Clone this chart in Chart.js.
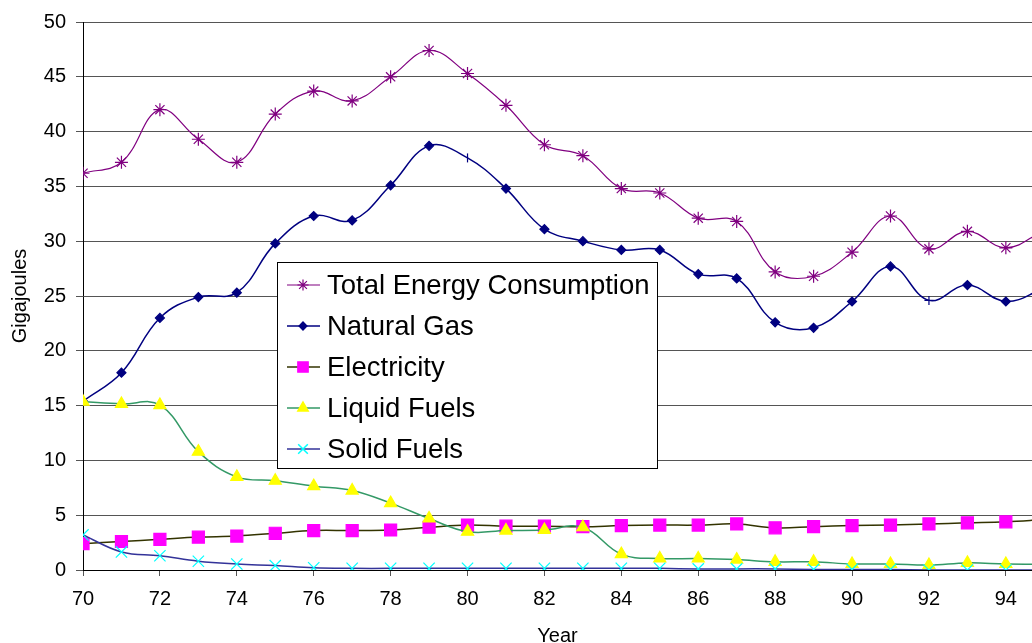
<!DOCTYPE html>
<html>
<head>
<meta charset="utf-8">
<script src="https://cdn.jsdelivr.net/npm/chart.js@4/dist/chart.umd.min.js"></script>
<style>
  html, body { margin: 0; padding: 0; background: #fff; overflow: hidden; }
  canvas { display: block; }
</style>
</head>
<body>
<canvas id="energy" width="1032" height="656"></canvas>
<script>
'use strict';

/* ── data ── */
const years = [70, 71, 72, 73, 74, 75, 76, 77, 78, 79, 80, 81, 82, 83, 84, 85, 86, 87, 88, 89, 90, 91, 92, 93, 94, 95];

const totalEnergy = [36.2, 37.2, 42.0, 39.3, 37.2, 41.6, 43.7, 42.8, 45.0, 47.4, 45.3, 42.4, 38.8,
                     37.8, 34.8, 34.4, 32.1, 31.8, 27.2, 26.8, 29.0, 32.3, 29.3, 30.9, 29.4, 31.0];
const naturalGas  = [15.4, 18.0, 23.0, 24.9, 25.3, 29.8, 32.3, 31.9, 35.1, 38.7, 37.6, 34.8, 31.1,
                     30.0, 29.2, 29.2, 27.0, 26.6, 22.6, 22.1, 24.5, 27.7, 24.6, 26.0, 24.5, 25.7];
const electricity = [2.4, 2.6, 2.8, 3.0, 3.1, 3.35, 3.6, 3.6, 3.65, 3.9, 4.1, 4.0, 4.0,
                     3.95, 4.05, 4.1, 4.1, 4.2, 3.85, 3.95, 4.05, 4.1, 4.2, 4.3, 4.4, 4.6];
const liquidFuels = [15.35, 15.15, 15.05, 10.8, 8.5, 8.15, 7.65, 7.25, 6.1, 4.7, 3.5, 3.6, 3.65,
                     3.9, 1.45, 1.05, 1.05, 0.95, 0.75, 0.75, 0.55, 0.55, 0.45, 0.65, 0.55, 0.5];
const solidFuels  = [3.2, 1.65, 1.3, 0.8, 0.55, 0.4, 0.2, 0.15, 0.15, 0.15, 0.15, 0.15, 0.15,
                     0.15, 0.15, 0.15, 0.1, 0.1, 0.1, 0.05, 0.05, 0.05, 0.0, 0.0, 0.0, 0.0];

const seriesNames = ['Total Energy Consumption', 'Natural Gas', 'Electricity', 'Liquid Fuels', 'Solid Fuels'];

const FONT = "'Liberation Sans', Arial, sans-serif";

function points(values) {
  return years.map((yr, i) => ({ x: yr, y: values[i] }));
}

function series(label, values, line, marker, style, radius, order, lineWidth) {
  return {
    label: label,
    data: points(values),
    borderColor: line,
    borderWidth: lineWidth,
    pointStyle: style,
    legendStyle: style,
    pointRadius: radius,
    pointHoverRadius: radius,
    pointBackgroundColor: marker,
    pointBorderColor: marker,
    pointBorderWidth: 1.2,
    tension: 0.4,
    fill: false,
    order: order,
  };
}

/* ── boxed legend in the middle of the plot ── */
const boxLegend = {
  id: 'boxLegend',
  afterDraw(chart) {
    const ctx = chart.ctx;
    ctx.save();
    ctx.fillStyle = '#fff';
    ctx.fillRect(277.5, 262.5, 380, 206);
    ctx.strokeStyle = '#000';
    ctx.lineWidth = 1;
    ctx.strokeRect(277.5, 262.5, 380, 206);

    ctx.font = '27.5px ' + FONT;
    ctx.textBaseline = 'middle';
    chart.data.datasets.forEach((ds, i) => {
      const y = 285 + i * 41;
      ctx.strokeStyle = ds.borderColor;
      ctx.lineWidth = ds.borderWidth;
      ctx.beginPath();
      ctx.moveTo(287, y);
      ctx.lineTo(320, y);
      ctx.stroke();

      ctx.fillStyle = ds.pointBackgroundColor;
      ctx.strokeStyle = ds.pointBorderColor;
      Chart.helpers.drawPoint(ctx, {
        pointStyle: ds.legendStyle,
        radius: ds.pointRadius * 0.85,
        borderWidth: ds.pointBorderWidth,
        rotation: 0,
      }, 303, y);

      ctx.fillStyle = '#000';
      ctx.fillText(ds.label, 327, y + 1);
    });
    ctx.restore();
  },
};

const gas = series(seriesNames[1], naturalGas, '#000080', '#000080', 'rectRot', 4.5, 4, 1.5);
// the original shows odd glyphs at 80 and 92 on this series
gas.pointStyle = years.map(yr => (yr === 80 ? 'line' : yr === 92 ? 'cross' : 'rectRot'));
gas.pointRotation = years.map(yr => (yr === 80 ? 90 : 0));

new Chart(document.getElementById('energy'), {
  type: 'line',
  data: {
    datasets: [
      series(seriesNames[0], totalEnergy, '#800080', '#800080', 'star', 6.5, 5, 1.2),
      gas,
      series(seriesNames[2], electricity, '#333300', '#ff00ff', 'rect', 8.5, 3, 1.5),
      series(seriesNames[3], liquidFuels, '#339966', '#ffff00', 'triangle', 7, 2, 1.5),
      series(seriesNames[4], solidFuels, '#333399', '#00ffff', 'crossRot', 8, 1, 1.5),
    ],
  },
  options: {
    responsive: false,
    animation: false,
    layout: { autoPadding: false, padding: { top: 22, right: 0, left: 0, bottom: 0 } },
    plugins: {
      legend: { display: false },
      tooltip: { enabled: false },
    },
    scales: {
      x: {
        type: 'linear',
        min: 70,
        max: 94.68,
        border: { color: '#000', width: 1 },
        grid: { drawOnChartArea: false, drawTicks: true, tickLength: 6, color: '#555' },
        ticks: {
          stepSize: 2,
          includeBounds: false,
          color: '#000',
          font: { family: FONT, size: 20 },
          padding: 11,
          maxRotation: 0,
          autoSkip: false,
        },
        title: {
          display: true,
          text: 'Year',
          color: '#000',
          font: { family: FONT, size: 20 },
          padding: { top: 0, bottom: 8 },
        },
        afterFit(scale) {
          scale.height = 86;
          scale.paddingLeft = 0;
          scale.paddingRight = 0;
        },
      },
      y: {
        min: 0,
        max: 50,
        border: { color: '#000', width: 1 },
        grid: { color: '#555', tickLength: 7, lineWidth: 1 },
        ticks: {
          stepSize: 5,
          color: '#000',
          font: { family: FONT, size: 20 },
          padding: 10,
        },
        title: {
          display: true,
          text: 'Gigajoules',
          color: '#000',
          font: { family: FONT, size: 20 },
          padding: { top: 8, bottom: 0 },
        },
        afterFit(scale) {
          scale.width = 83;
          scale.paddingTop = 0;
          scale.paddingBottom = 0;
        },
      },
    },
  },
  plugins: [boxLegend],
});
</script>
</body>
</html>
